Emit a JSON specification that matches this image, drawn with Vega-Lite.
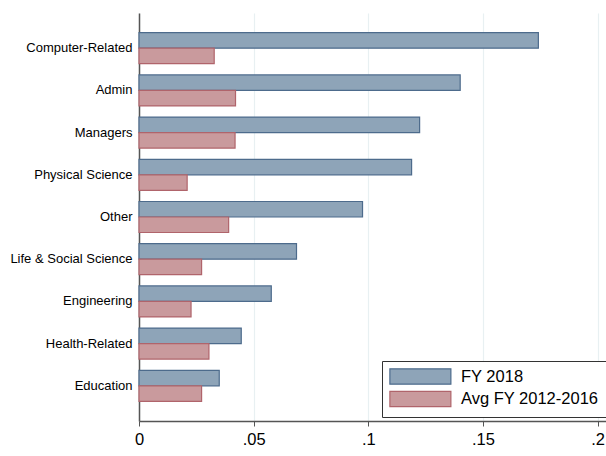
{
  "$schema": "https://vega.github.io/schema/vega-lite/v6.json",
  "width": 467,
  "height": 408,
  "autosize": {"type": "none"},
  "padding": {"left": 139, "top": 13, "right": 0, "bottom": 35},
  "background": "white",
  "config": {
    "font": "Liberation Sans",
    "view": {"stroke": null},
    "axis": {"labelFont": "Liberation Sans", "labelColor": "#000000"}
  },
  "data": {
    "values": [
      {"category": "Computer-Related", "series": "FY 2018", "value": 0.1742},
      {"category": "Computer-Related", "series": "Avg FY 2012-2016", "value": 0.0328},
      {"category": "Admin", "series": "FY 2018", "value": 0.1401},
      {"category": "Admin", "series": "Avg FY 2012-2016", "value": 0.0421},
      {"category": "Managers", "series": "FY 2018", "value": 0.1224},
      {"category": "Managers", "series": "Avg FY 2012-2016", "value": 0.0419},
      {"category": "Physical Science", "series": "FY 2018", "value": 0.1189},
      {"category": "Physical Science", "series": "Avg FY 2012-2016", "value": 0.0210},
      {"category": "Other", "series": "FY 2018", "value": 0.0975},
      {"category": "Other", "series": "Avg FY 2012-2016", "value": 0.0391},
      {"category": "Life & Social Science", "series": "FY 2018", "value": 0.0687},
      {"category": "Life & Social Science", "series": "Avg FY 2012-2016", "value": 0.0273},
      {"category": "Engineering", "series": "FY 2018", "value": 0.0577},
      {"category": "Engineering", "series": "Avg FY 2012-2016", "value": 0.0227},
      {"category": "Health-Related", "series": "FY 2018", "value": 0.0446},
      {"category": "Health-Related", "series": "Avg FY 2012-2016", "value": 0.0305},
      {"category": "Education", "series": "FY 2018", "value": 0.0350},
      {"category": "Education", "series": "Avg FY 2012-2016", "value": 0.0273}
    ]
  },
  "mark": {"type": "bar", "strokeWidth": 1.2, "opacity": 1},
  "encoding": {
    "y": {
      "field": "category",
      "type": "nominal",
      "sort": ["Computer-Related", "Admin", "Managers", "Physical Science", "Other", "Life & Social Science", "Engineering", "Health-Related", "Education"],
      "scale": {"paddingInner": 0.265, "paddingOuter": 0.467},
      "axis": {
        "title": null,
        "ticks": false,
        "labelPadding": 7,
        "labelFontSize": 13,
        "domainColor": "#555555",
        "domainWidth": 1.5,
        "grid": false
      }
    },
    "yOffset": {
      "field": "series",
      "type": "nominal",
      "sort": ["FY 2018", "Avg FY 2012-2016"],
      "scale": {"paddingInner": 0, "paddingOuter": 0}
    },
    "x": {
      "field": "value",
      "type": "quantitative",
      "scale": {"domain": [0, 0.2037], "nice": false, "zero": true},
      "axis": {
        "title": null,
        "values": [0, 0.05, 0.1, 0.15, 0.2],
        "labelExpr": "datum.value == 0 ? '0' : replace(toString(datum.value), '0.', '.')",
        "labelFontSize": 16.5,
        "labelPadding": 5,
        "tickSize": 5,
        "tickColor": "#555555",
        "domainColor": "#555555",
        "domainWidth": 1.5,
        "grid": true,
        "gridColor": "#e8f0f2",
        "gridWidth": 1.2,
        "labelFlush": false,
        "labelOverlap": false
      }
    },
    "color": {
      "field": "series",
      "type": "nominal",
      "sort": ["FY 2018", "Avg FY 2012-2016"],
      "scale": {"domain": ["FY 2018", "Avg FY 2012-2016"], "range": ["#8ea4b8", "#c99a9d"]},
      "legend": {
        "title": null,
        "orient": "none",
        "legendX": 243,
        "legendY": 348,
        "direction": "vertical",
        "strokeColor": "#333333",
        "fillColor": "white",
        "padding": 7,
        "symbolType": "M-1,-1H7V1H-1Z",
        "symbolSize": 232.6,
        "symbolStrokeWidth": 1.2,
        "symbolOpacity": 1,
        "labelFontSize": 16.5,
        "labelOffset": 55,
        "labelColor": "#000000",
        "rowPadding": 1.5
      }
    },
    "stroke": {
      "field": "series",
      "type": "nominal",
      "sort": ["FY 2018", "Avg FY 2012-2016"],
      "scale": {"domain": ["FY 2018", "Avg FY 2012-2016"], "range": ["#4d6b8c", "#b0646b"]},
      "legend": {
        "title": null,
        "orient": "none",
        "legendX": 243,
        "legendY": 348,
        "direction": "vertical",
        "strokeColor": "#333333",
        "fillColor": "white",
        "padding": 7,
        "symbolType": "M-1,-1H7V1H-1Z",
        "symbolSize": 232.6,
        "symbolStrokeWidth": 1.2,
        "symbolOpacity": 1,
        "labelFontSize": 16.5,
        "labelOffset": 55,
        "labelColor": "#000000",
        "rowPadding": 1.5
      }
    }
  }
}
